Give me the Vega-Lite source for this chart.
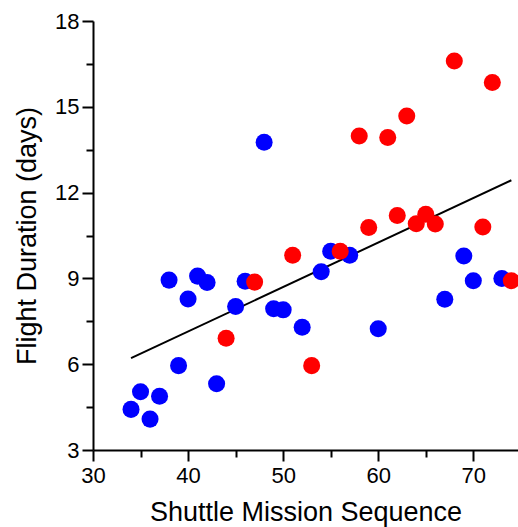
{
  "$schema": "https://vega.github.io/schema/vega-lite/v6.json",
  "autosize": {"type": "none"},
  "width": 425,
  "height": 429,
  "padding": {"left": 93, "top": 21, "right": 0, "bottom": 77},
  "background": "white",
  "config": {
    "view": {"stroke": null},
    "font": "Liberation Sans",
    "axis": {
      "domainColor": "black",
      "domainWidth": 2,
      "tickColor": "black",
      "tickWidth": 2,
      "labelColor": "black",
      "titleColor": "black",
      "labelFont": "Liberation Sans",
      "titleFont": "Liberation Sans",
      "labelFontSize": 22,
      "titleFontSize": 27,
      "titleFontWeight": "normal",
      "grid": false
    }
  },
  "data": {
    "values": [
      {"mission": 34, "days": 4.42, "series": "blue"},
      {"mission": 35, "days": 5.04, "series": "blue"},
      {"mission": 36, "days": 4.08, "series": "blue"},
      {"mission": 37, "days": 4.88, "series": "blue"},
      {"mission": 38, "days": 8.94, "series": "blue"},
      {"mission": 39, "days": 5.95, "series": "blue"},
      {"mission": 40, "days": 8.28, "series": "blue"},
      {"mission": 41, "days": 9.08, "series": "blue"},
      {"mission": 42, "days": 8.86, "series": "blue"},
      {"mission": 43, "days": 5.32, "series": "blue"},
      {"mission": 45, "days": 8.02, "series": "blue"},
      {"mission": 46, "days": 8.90, "series": "blue"},
      {"mission": 48, "days": 13.76, "series": "blue"},
      {"mission": 49, "days": 7.94, "series": "blue"},
      {"mission": 50, "days": 7.90, "series": "blue"},
      {"mission": 52, "days": 7.29, "series": "blue"},
      {"mission": 54, "days": 9.23, "series": "blue"},
      {"mission": 55, "days": 9.95, "series": "blue"},
      {"mission": 57, "days": 9.81, "series": "blue"},
      {"mission": 60, "days": 7.24, "series": "blue"},
      {"mission": 67, "days": 8.27, "series": "blue"},
      {"mission": 69, "days": 9.78, "series": "blue"},
      {"mission": 70, "days": 8.92, "series": "blue"},
      {"mission": 73, "days": 9.0, "series": "blue"},
      {"mission": 44, "days": 6.91, "series": "red"},
      {"mission": 47, "days": 8.87, "series": "red"},
      {"mission": 51, "days": 9.81, "series": "red"},
      {"mission": 53, "days": 5.95, "series": "red"},
      {"mission": 56, "days": 9.95, "series": "red"},
      {"mission": 58, "days": 13.98, "series": "red"},
      {"mission": 59, "days": 10.78, "series": "red"},
      {"mission": 61, "days": 13.93, "series": "red"},
      {"mission": 62, "days": 11.20, "series": "red"},
      {"mission": 63, "days": 14.68, "series": "red"},
      {"mission": 64, "days": 10.91, "series": "red"},
      {"mission": 65, "days": 11.24, "series": "red"},
      {"mission": 66, "days": 10.90, "series": "red"},
      {"mission": 68, "days": 16.60, "series": "red"},
      {"mission": 71, "days": 10.80, "series": "red"},
      {"mission": 72, "days": 15.85, "series": "red"},
      {"mission": 74, "days": 8.92, "series": "red"}
    ]
  },
  "encoding": {
    "x": {
      "field": "mission",
      "type": "quantitative",
      "scale": {"domain": [30, 74.7], "nice": false, "zero": false},
      "axis": {
        "title": "Shuttle Mission Sequence",
        "values": [30, 35, 40, 45, 50, 55, 60, 65, 70],
        "labelExpr": "datum.value % 10 === 0 ? datum.label : ''",
        "tickSize": {"condition": {"test": "datum.value % 10 === 0", "value": 11}, "value": 7},
        "labelPadding": 4,
        "titlePadding": 13,
        "labelFlush": false,
        "labelOverlap": false
      }
    },
    "y": {
      "field": "days",
      "type": "quantitative",
      "scale": {"domain": [3, 18], "nice": false, "zero": false},
      "axis": {
        "title": "Flight Duration (days)",
        "values": [3, 4.5, 6, 7.5, 9, 10.5, 12, 13.5, 15, 16.5, 18],
        "labelExpr": "datum.value % 3 === 0 ? datum.label : ''",
        "tickSize": {"condition": {"test": "datum.value % 3 === 0", "value": 11}, "value": 7},
        "labelPadding": 3,
        "titlePadding": 13,
        "labelFlush": false,
        "labelOverlap": false
      }
    }
  },
  "layer": [
    {
      "transform": [
        {"regression": "days", "on": "mission", "extent": [34, 74]}
      ],
      "mark": {"type": "line", "color": "black", "strokeWidth": 2}
    },
    {
      "mark": {"type": "point", "filled": true, "opacity": 1, "size": 290},
      "encoding": {
        "color": {
          "field": "series",
          "type": "nominal",
          "scale": {"domain": ["blue", "red"], "range": ["#0000FF", "#FF0000"]},
          "legend": null
        }
      }
    }
  ]
}
